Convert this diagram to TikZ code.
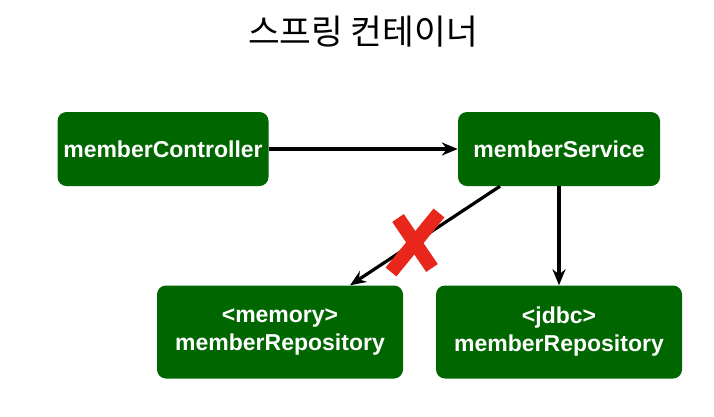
\documentclass[tikz,border=0pt]{standalone}
\usepackage{fontspec}
\setmainfont{Liberation Sans}
\newfontfamily\krfont{Noto Sans CJK KR}
\usetikzlibrary{arrows.meta}
\definecolor{beangreen}{HTML}{006600}
\definecolor{crossred}{HTML}{E8261B}
\begin{document}
\begin{tikzpicture}[x=1pt,y=-1pt,every node/.style={font=\fontsize{23}{28}\selectfont\bfseries,text=white},
  bean/.style={draw=none,fill=beangreen,rounded corners=9pt,align=center,inner sep=0pt},
  wire/.style={line width=3.2pt,-{Stealth[length=16pt,width=13pt]}}]
\useasboundingbox (0,0) rectangle (714,416);
% Title
\node[font=\krfont\fontsize{34.5}{40}\selectfont,text=black] (title) at (363,32) {스프링 컨테이너};
% Beans in the container
\node[bean,minimum width=211pt,minimum height=74pt] (ctrl) at (163,149) {memberController};
\node[bean,minimum width=202pt,minimum height=74pt] (svc) at (559,149) {memberService};
\foreach \x/\kind/\name in {280/memory/mem,559/jdbc/jdbc} {\node[bean,minimum width=246pt,minimum height=93pt] (\name) at (\x,332) {<\kind>\\memberRepository};}
% Dependencies
\draw[wire] (ctrl.east) -- (svc.west);
\draw[wire] ([xshift=-59pt]svc.south) -- ([xshift=70pt]mem.north);
\draw[wire] (svc.south) -- (jdbc.north);
% Cut dependency
\draw[crossred,line width=14pt] (398,218) -- (432,268);
\draw[crossred,line width=14pt] (439,213) -- (391,272);
\end{tikzpicture}
\end{document}
